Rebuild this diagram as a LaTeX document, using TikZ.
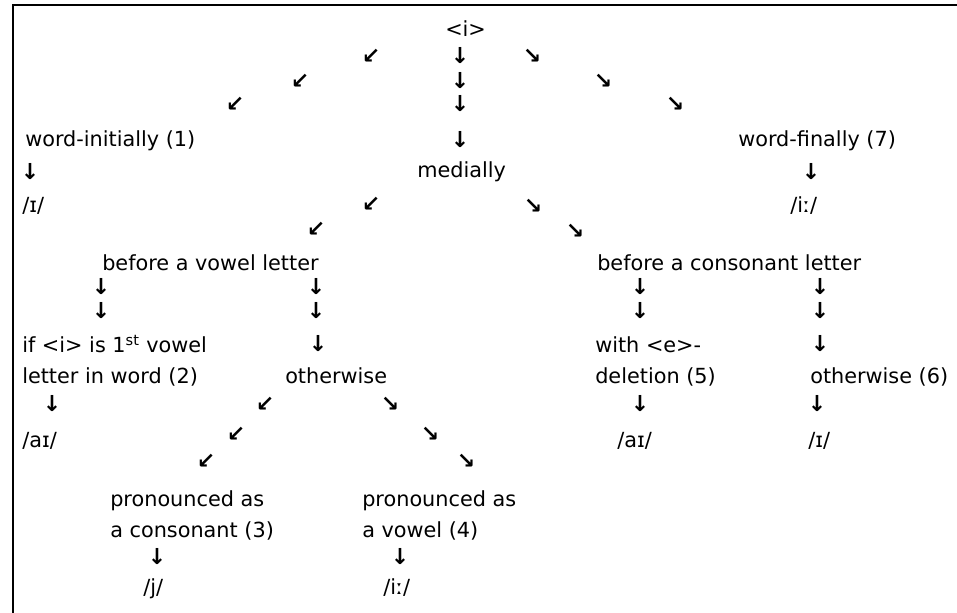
\documentclass[tikz,border=0pt]{standalone}
\usepackage{fontspec}
\setmainfont{DejaVu Sans}
\begin{document}
\begin{tikzpicture}[x=0.75pt,y=-0.75pt,
	lbl/.style={anchor=base west,inner sep=0pt,font=\fontsize{15.6}{18}\selectfont},
	arr/.style={inner sep=0pt,font=\fontsize{16.5}{18}\selectfont\bfseries}]
	\useasboundingbox (0,0) rectangle (957,613);
	\draw[line width=1.1pt] (13,613) -- (13,5) -- (957,5);
	% top split
	\node[lbl] (root) at (445,37) {<i>};
	\foreach \x/\y [count=\i] in {460/56,460/81,460/104,460/140} \node[arr] (rd\i) at (\x,\y) {↓};
	\foreach \x/\y [count=\i] in {371/56,300/81,235/104} \node[arr] (rl\i) at (\x,\y) {↙};
	\foreach \x/\y [count=\i] in {532/56,603/81,675/104} \node[arr] (rr\i) at (\x,\y) {↘};
	\node[lbl] (init) at (25,147) {word-initially (1)};
	\node[lbl] (fin) at (738,147) {word-finally (7)};
	\node[lbl] (med) at (417,178) {medially};
	\node[arr] (initd) at (30,172) {↓};
	\node[arr] (find) at (811,172) {↓};
	\node[lbl] (initv) at (22,213) {/ɪ/};
	\node[lbl] (finv) at (790,213) {/iː/};
	% medial split
	\foreach \x/\y [count=\i] in {371/204,316/229} \node[arr] (ml\i) at (\x,\y) {↙};
	\foreach \x/\y [count=\i] in {533/206,575/231} \node[arr] (mr\i) at (\x,\y) {↘};
	\node[lbl] (vow) at (102,270) {before a vowel letter};
	\node[lbl] (cons) at (597,270) {before a consonant letter};
	\foreach \x/\y [count=\i] in {101/287,101/311} \node[arr] (vl\i) at (\x,\y) {↓};
	\foreach \x/\y [count=\i] in {316/287,316/311,318/344} \node[arr] (vr\i) at (\x,\y) {↓};
	\foreach \x/\y [count=\i] in {640/287,640/311} \node[arr] (cl\i) at (\x,\y) {↓};
	\foreach \x/\y [count=\i] in {820/287,820/311,820/344} \node[arr] (cr\i) at (\x,\y) {↓};
	\node[lbl] (first) at (22,352) {if <i> is 1\textsuperscript{st} vowel};
	\node[lbl] (firstb) at (22,383) {letter in word (2)};
	\node[lbl] (voth) at (285,383) {otherwise};
	\node[lbl] (edel) at (595,352) {with <e>-};
	\node[lbl] (edelb) at (595,383) {deletion (5)};
	\node[lbl] (coth) at (810,383) {otherwise (6)};
	\node[arr] (firstd) at (52,404) {↓};
	\node[arr] (edeld) at (640,404) {↓};
	\node[arr] (cothd) at (817,404) {↓};
	\node[lbl] (firstv) at (22,447) {/aɪ/};
	\node[lbl] (edelv) at (617,447) {/aɪ/};
	\node[lbl] (cothv) at (808,447) {/ɪ/};
	% otherwise split
	\foreach \x/\y [count=\i] in {265/404,236/434,206/461} \node[arr] (ol\i) at (\x,\y) {↙};
	\foreach \x/\y [count=\i] in {390/404,430/434,466/461} \node[arr] (or\i) at (\x,\y) {↘};
	\node[lbl] (pcons) at (110,506) {pronounced as};
	\node[lbl] (pconsb) at (110,537) {a consonant (3)};
	\node[lbl] (pvow) at (362,506) {pronounced as};
	\node[lbl] (pvowb) at (362,537) {a vowel (4)};
	\node[arr] (pconsd) at (157,557) {↓};
	\node[arr] (pvowd) at (400,557) {↓};
	\node[lbl] (pconsv) at (143,594) {/j/};
	\node[lbl] (pvowv) at (383,594) {/iː/};
\end{tikzpicture}
\end{document}
